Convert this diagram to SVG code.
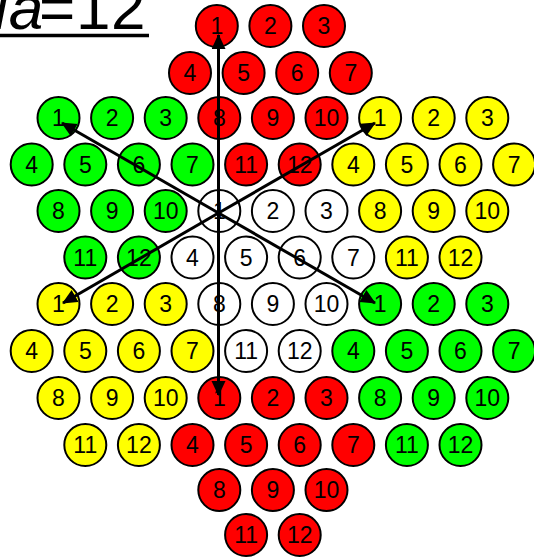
<svg xmlns="http://www.w3.org/2000/svg" width="534" height="557" viewBox="0 0 534 557">
<style>
circle{stroke:#000;stroke-width:2}
.r{fill:#ff0000}.g{fill:#00ff00}.y{fill:#ffff00}.w{fill:#fff}
text.n{font-family:"Liberation Sans",Arial,sans-serif;font-size:23px;text-anchor:middle;fill:#000}
.arr{stroke:#000;stroke-width:3;fill:none;marker-end:url(#ah)}
</style>
<defs>
<marker id="ah" markerUnits="userSpaceOnUse" markerWidth="16" markerHeight="16" refX="14" refY="7" orient="auto" viewBox="0 0 16 16">
<path d="M0,0 L15,7 L0,14 z" fill="#000"/>
</marker>
</defs>
<rect width="534" height="557" fill="#fff"/>
<g id="title">
<text y="29" font-family="'Liberation Sans',Arial,sans-serif" font-size="62" fill="#000"><tspan x="-36" font-style="italic">Na</tspan><tspan x="39">=</tspan><tspan x="76">1</tspan><tspan x="111">2</tspan></text>
<line x1="0" y1="35.5" x2="149" y2="35.5" stroke="#000" stroke-width="3.5"/>
</g>
<g id="nodes">
<g id="r1"><circle class="r" cx="216.8" cy="26" r="21"/><text class="n" x="216.8" y="34">1</text></g>
<g id="r2"><circle class="r" cx="270.4" cy="26" r="21"/><text class="n" x="270.4" y="34">2</text></g>
<g id="r3"><circle class="r" cx="324" cy="26" r="21"/><text class="n" x="324" y="34">3</text></g>
<g id="r4"><circle class="r" cx="190" cy="73" r="21"/><text class="n" x="190" y="81">4</text></g>
<g id="r5"><circle class="r" cx="243.6" cy="73" r="21"/><text class="n" x="243.6" y="81">5</text></g>
<g id="r6"><circle class="r" cx="297.2" cy="73" r="21"/><text class="n" x="297.2" y="81">6</text></g>
<g id="r7"><circle class="r" cx="350.8" cy="73" r="21"/><text class="n" x="350.8" y="81">7</text></g>

<g id="g1"><circle class="g" cx="58.5" cy="118" r="21"/><text class="n" x="58.5" y="126">1</text></g>
<g id="g2"><circle class="g" cx="112.1" cy="118" r="21"/><text class="n" x="112.1" y="126">2</text></g>
<g id="g3"><circle class="g" cx="165.7" cy="118" r="21"/><text class="n" x="165.7" y="126">3</text></g>
<g id="r8"><circle class="r" cx="219.3" cy="118" r="21"/><text class="n" x="219.3" y="126">8</text></g>
<g id="r9"><circle class="r" cx="272.9" cy="118" r="21"/><text class="n" x="272.9" y="126">9</text></g>
<g id="r10"><circle class="r" cx="326.5" cy="118" r="21"/><text class="n" x="326.5" y="126">10</text></g>
<g id="y1"><circle class="y" cx="380.1" cy="118" r="21"/><text class="n" x="380.1" y="126">1</text></g>
<g id="y2"><circle class="y" cx="433.7" cy="118" r="21"/><text class="n" x="433.7" y="126">2</text></g>
<g id="y3"><circle class="y" cx="487.3" cy="118" r="21"/><text class="n" x="487.3" y="126">3</text></g>

<g id="g4"><circle class="g" cx="31.7" cy="164.5" r="21"/><text class="n" x="31.7" y="172.5">4</text></g>
<g id="g5"><circle class="g" cx="85.3" cy="164.5" r="21"/><text class="n" x="85.3" y="172.5">5</text></g>
<g id="g6"><circle class="g" cx="138.9" cy="164.5" r="21"/><text class="n" x="138.9" y="172.5">6</text></g>
<g id="g7"><circle class="g" cx="192.5" cy="164.5" r="21"/><text class="n" x="192.5" y="172.5">7</text></g>
<g id="r11"><circle class="r" cx="246.1" cy="164.5" r="21"/><text class="n" x="246.1" y="172.5">11</text></g>
<g id="r12"><circle class="r" cx="299.7" cy="164.5" r="21"/><text class="n" x="299.7" y="172.5">12</text></g>
<g id="y4"><circle class="y" cx="353.3" cy="164.5" r="21"/><text class="n" x="353.3" y="172.5">4</text></g>
<g id="y5"><circle class="y" cx="406.9" cy="164.5" r="21"/><text class="n" x="406.9" y="172.5">5</text></g>
<g id="y6"><circle class="y" cx="460.5" cy="164.5" r="21"/><text class="n" x="460.5" y="172.5">6</text></g>
<g id="y7"><circle class="y" cx="514.1" cy="164.5" r="21"/><text class="n" x="514.1" y="172.5">7</text></g>

<g id="g8"><circle class="g" cx="58.5" cy="211" r="21"/><text class="n" x="58.5" y="219">8</text></g>
<g id="g9"><circle class="g" cx="112.1" cy="211" r="21"/><text class="n" x="112.1" y="219">9</text></g>
<g id="g10"><circle class="g" cx="165.7" cy="211" r="21"/><text class="n" x="165.7" y="219">10</text></g>
<g id="w1"><circle class="w" cx="219.3" cy="211" r="21"/><text class="n" x="219.3" y="219">1</text></g>
<g id="w2"><circle class="w" cx="272.9" cy="211" r="21"/><text class="n" x="272.9" y="219">2</text></g>
<g id="w3"><circle class="w" cx="326.5" cy="211" r="21"/><text class="n" x="326.5" y="219">3</text></g>
<g id="y8"><circle class="y" cx="380.1" cy="211" r="21"/><text class="n" x="380.1" y="219">8</text></g>
<g id="y9"><circle class="y" cx="433.7" cy="211" r="21"/><text class="n" x="433.7" y="219">9</text></g>
<g id="y10"><circle class="y" cx="487.3" cy="211" r="21"/><text class="n" x="487.3" y="219">10</text></g>

<g id="g11"><circle class="g" cx="85.3" cy="257.5" r="21"/><text class="n" x="85.3" y="265.5">11</text></g>
<g id="g12"><circle class="g" cx="138.9" cy="257.5" r="21"/><text class="n" x="138.9" y="265.5">12</text></g>
<g id="w4"><circle class="w" cx="192.5" cy="257.5" r="21"/><text class="n" x="192.5" y="265.5">4</text></g>
<g id="w5"><circle class="w" cx="246.1" cy="257.5" r="21"/><text class="n" x="246.1" y="265.5">5</text></g>
<g id="w6"><circle class="w" cx="299.7" cy="257.5" r="21"/><text class="n" x="299.7" y="265.5">6</text></g>
<g id="w7"><circle class="w" cx="353.3" cy="257.5" r="21"/><text class="n" x="353.3" y="265.5">7</text></g>
<g id="y11"><circle class="y" cx="406.9" cy="257.5" r="21"/><text class="n" x="406.9" y="265.5">11</text></g>
<g id="y12"><circle class="y" cx="460.5" cy="257.5" r="21"/><text class="n" x="460.5" y="265.5">12</text></g>

<g id="yb1"><circle class="y" cx="58.5" cy="304" r="21"/><text class="n" x="58.5" y="312">1</text></g>
<g id="yb2"><circle class="y" cx="112.1" cy="304" r="21"/><text class="n" x="112.1" y="312">2</text></g>
<g id="yb3"><circle class="y" cx="165.7" cy="304" r="21"/><text class="n" x="165.7" y="312">3</text></g>
<g id="w8"><circle class="w" cx="219.3" cy="304" r="21"/><text class="n" x="219.3" y="312">8</text></g>
<g id="w9"><circle class="w" cx="272.9" cy="304" r="21"/><text class="n" x="272.9" y="312">9</text></g>
<g id="w10"><circle class="w" cx="326.5" cy="304" r="21"/><text class="n" x="326.5" y="312">10</text></g>
<g id="gb1"><circle class="g" cx="380.1" cy="304" r="21"/><text class="n" x="380.1" y="312">1</text></g>
<g id="gb2"><circle class="g" cx="433.7" cy="304" r="21"/><text class="n" x="433.7" y="312">2</text></g>
<g id="gb3"><circle class="g" cx="487.3" cy="304" r="21"/><text class="n" x="487.3" y="312">3</text></g>

<g id="yb4"><circle class="y" cx="31.7" cy="351" r="21"/><text class="n" x="31.7" y="359">4</text></g>
<g id="yb5"><circle class="y" cx="85.3" cy="351" r="21"/><text class="n" x="85.3" y="359">5</text></g>
<g id="yb6"><circle class="y" cx="138.9" cy="351" r="21"/><text class="n" x="138.9" y="359">6</text></g>
<g id="yb7"><circle class="y" cx="192.5" cy="351" r="21"/><text class="n" x="192.5" y="359">7</text></g>
<g id="w11"><circle class="w" cx="246.1" cy="351" r="21"/><text class="n" x="246.1" y="359">11</text></g>
<g id="w12"><circle class="w" cx="299.7" cy="351" r="21"/><text class="n" x="299.7" y="359">12</text></g>
<g id="gb4"><circle class="g" cx="353.3" cy="351" r="21"/><text class="n" x="353.3" y="359">4</text></g>
<g id="gb5"><circle class="g" cx="406.9" cy="351" r="21"/><text class="n" x="406.9" y="359">5</text></g>
<g id="gb6"><circle class="g" cx="460.5" cy="351" r="21"/><text class="n" x="460.5" y="359">6</text></g>
<g id="gb7"><circle class="g" cx="514.1" cy="351" r="21"/><text class="n" x="514.1" y="359">7</text></g>

<g id="yb8"><circle class="y" cx="58.5" cy="398" r="21"/><text class="n" x="58.5" y="406">8</text></g>
<g id="yb9"><circle class="y" cx="112.1" cy="398" r="21"/><text class="n" x="112.1" y="406">9</text></g>
<g id="yb10"><circle class="y" cx="165.7" cy="398" r="21"/><text class="n" x="165.7" y="406">10</text></g>
<g id="rb1"><circle class="r" cx="219.3" cy="398" r="21"/><text class="n" x="219.3" y="406">1</text></g>
<g id="rb2"><circle class="r" cx="272.9" cy="398" r="21"/><text class="n" x="272.9" y="406">2</text></g>
<g id="rb3"><circle class="r" cx="326.5" cy="398" r="21"/><text class="n" x="326.5" y="406">3</text></g>
<g id="gb8"><circle class="g" cx="380.1" cy="398" r="21"/><text class="n" x="380.1" y="406">8</text></g>
<g id="gb9"><circle class="g" cx="433.7" cy="398" r="21"/><text class="n" x="433.7" y="406">9</text></g>
<g id="gb10"><circle class="g" cx="487.3" cy="398" r="21"/><text class="n" x="487.3" y="406">10</text></g>

<g id="yb11"><circle class="y" cx="85.3" cy="445" r="21"/><text class="n" x="85.3" y="453">11</text></g>
<g id="yb12"><circle class="y" cx="138.9" cy="445" r="21"/><text class="n" x="138.9" y="453">12</text></g>
<g id="rb4"><circle class="r" cx="192.5" cy="445" r="21"/><text class="n" x="192.5" y="453">4</text></g>
<g id="rb5"><circle class="r" cx="246.1" cy="445" r="21"/><text class="n" x="246.1" y="453">5</text></g>
<g id="rb6"><circle class="r" cx="299.7" cy="445" r="21"/><text class="n" x="299.7" y="453">6</text></g>
<g id="rb7"><circle class="r" cx="353.3" cy="445" r="21"/><text class="n" x="353.3" y="453">7</text></g>
<g id="gb11"><circle class="g" cx="406.9" cy="445" r="21"/><text class="n" x="406.9" y="453">11</text></g>
<g id="gb12"><circle class="g" cx="460.5" cy="445" r="21"/><text class="n" x="460.5" y="453">12</text></g>

<g id="rb8"><circle class="r" cx="219.3" cy="490" r="21"/><text class="n" x="219.3" y="498">8</text></g>
<g id="rb9"><circle class="r" cx="272.9" cy="490" r="21"/><text class="n" x="272.9" y="498">9</text></g>
<g id="rb10"><circle class="r" cx="326.5" cy="490" r="21"/><text class="n" x="326.5" y="498">10</text></g>
<g id="rb11"><circle class="r" cx="246.1" cy="535" r="21"/><text class="n" x="246.1" y="543">11</text></g>
<g id="rb12"><circle class="r" cx="299.7" cy="535" r="21"/><text class="n" x="299.7" y="543">12</text></g>
</g>
<g id="connectors">
<line class="arr" x1="218.5" y1="213" x2="218.5" y2="35"/>
<line class="arr" x1="218.5" y1="213" x2="218.5" y2="395"/>
<line class="arr" x1="218.5" y1="213" x2="62" y2="123"/>
<line class="arr" x1="218.5" y1="213" x2="375" y2="123"/>
<line class="arr" x1="218.5" y1="213" x2="63" y2="303"/>
<line class="arr" x1="218.5" y1="213" x2="375" y2="303"/>
</g>
</svg>
